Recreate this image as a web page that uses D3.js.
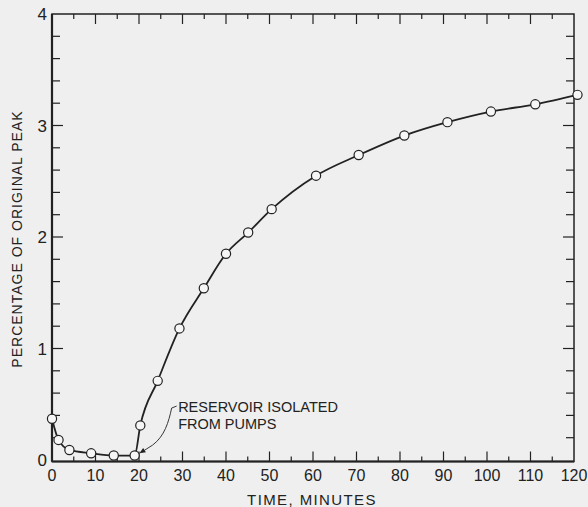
<!DOCTYPE html>
<html>
<head>
<meta charset="utf-8">
<script src="https://cdn.jsdelivr.net/npm/d3@7"></script>
<style>
  html, body { margin: 0; padding: 0; background: #efefef; }
  svg { display: block; }
  text { font-family: "Liberation Sans", Arial, sans-serif; fill: #222; }
</style>
</head>
<body>
<svg id="chart" width="588" height="507"></svg>
<script>
// ---- data ----
const timeMinutes = [0, 1.5, 4, 9, 14.2, 19, 20.3, 24.3, 29.3, 34.9, 40, 45.1, 50.5, 60.7, 70.5, 81, 90.9, 100.9, 111.1, 120.8];
const percentPeak = [0.37, 0.18, 0.09, 0.06, 0.04, 0.04, 0.31, 0.71, 1.18, 1.54, 1.85, 2.04, 2.25, 2.55, 2.735, 2.91, 3.03, 3.125, 3.19, 3.275];
const xTickValues = [0, 10, 20, 30, 40, 50, 60, 70, 80, 90, 100, 110, 120];
const xTickLabels = ["0", "10", "20", "30", "40", "50", "60", "70", "80", "90", "100", "110", "120"];
const yTickValues = [0, 1, 2, 3, 4];
const yTickLabels = ["0", "1", "2", "3", "4"];
const xLabel = "TIME, MINUTES";
const yLabel = "PERCENTAGE OF ORIGINAL PEAK";
const annotationLines = ["RESERVOIR ISOLATED", "FROM PUMPS"];

// ---- layout ----
const svg = d3.select("#chart");
const x = d3.scaleLinear().domain([0, 120]).range([52, 574]);
const y = d3.scaleLinear().domain([0, 4]).range([460, 14]);
const ink = "#222";

// frame
const g = svg.append("g");
g.append("rect")
  .attr("x", x(0)).attr("y", y(4))
  .attr("width", x(120) - x(0)).attr("height", y(0) - y(4) + 1.5)
  .attr("fill", "none").attr("stroke", ink).attr("stroke-width", 1.5);
// heavier left and bottom axis
g.append("line").attr("x1", x(0)).attr("x2", x(0)).attr("y1", y(4)).attr("y2", y(0) + 1.5)
  .attr("stroke", ink).attr("stroke-width", 2.2);
g.append("line").attr("x1", x(0)).attr("x2", x(120)).attr("y1", y(0) + 1.5).attr("y2", y(0) + 1.5)
  .attr("stroke", ink).attr("stroke-width", 2);

// x ticks (every 5 min) bottom and top, inward
const xMinor = d3.range(5, 120, 5);
xMinor.forEach(v => {
  const major = v % 10 === 0;
  const len = major ? 10 : 5;
  g.append("line").attr("x1", x(v)).attr("x2", x(v))
    .attr("y1", y(0) + 1.5).attr("y2", y(0) + 1.5 - len)
    .attr("stroke", ink).attr("stroke-width", 1.2);
  g.append("line").attr("x1", x(v)).attr("x2", x(v))
    .attr("y1", y(4)).attr("y2", y(4) + len)
    .attr("stroke", ink).attr("stroke-width", 1.2);
});
// y ticks (every 0.2) left and right, inward
d3.range(1, 20).forEach(i => {
  const v = i * 0.2;
  const major = i % 5 === 0;
  const len = major ? 11 : 8;
  g.append("line").attr("x1", x(0)).attr("x2", x(0) + len)
    .attr("y1", y(v)).attr("y2", y(v))
    .attr("stroke", ink).attr("stroke-width", 1.2);
  g.append("line").attr("x1", x(120)).attr("x2", x(120) - len)
    .attr("y1", y(v)).attr("y2", y(v))
    .attr("stroke", ink).attr("stroke-width", 1.2);
});

// tick labels
g.selectAll(".xl").data(xTickValues).enter().append("text")
  .attr("x", d => x(d)).attr("y", 481)
  .attr("text-anchor", "middle").attr("font-size", 16)
  .text((d, i) => xTickLabels[i]);
g.selectAll(".yl").data(yTickValues).enter().append("text")
  .attr("x", 47).attr("y", d => y(d)).attr("dy", "0.36em")
  .attr("text-anchor", "end").attr("font-size", 17)
  .text((d, i) => yTickLabels[i]);

// axis titles
g.append("text").attr("x", 312).attr("y", 505)
  .attr("text-anchor", "middle").attr("font-size", 15)
  .attr("letter-spacing", 1.4).text(xLabel);
g.append("text").attr("transform", "translate(22,239) rotate(-90)")
  .attr("text-anchor", "middle").attr("font-size", 14)
  .attr("letter-spacing", 1).text(yLabel);

// data line
const pts = timeMinutes.map((t, i) => [t, percentPeak[i]]);
const line = d3.line().x(d => x(d[0])).y(d => y(d[1])).curve(d3.curveMonotoneX);
g.append("path").datum(pts).attr("d", line)
  .attr("fill", "none").attr("stroke", ink).attr("stroke-width", 1.8);
g.selectAll(".pt").data(pts).enter().append("circle")
  .attr("cx", d => x(d[0])).attr("cy", d => y(d[1])).attr("r", 4.6)
  .attr("fill", "#f6f6f6").attr("stroke", ink).attr("stroke-width", 1.2);

// annotation
const ax = x(29), ay = y(0.43);
annotationLines.forEach((s, i) => {
  g.append("text").attr("x", ax).attr("y", ay + i * 16.5)
    .attr("font-size", 14.5).text(s);
});
const tipX = x(20.1), tipY = y(0.06);
const sx = ax - 1.5, sy = ay - 6;
g.append("path")
  .attr("d", `M${sx},${sy} L${sx - 5},${sy + 2} C${sx - 8},${sy + 16} ${sx - 12},${sy + 30} ${sx - 24},${sy + 39} L${tipX + 5},${tipY - 3}`)
  .attr("fill", "none").attr("stroke", ink).attr("stroke-width", 0.9);
// arrowhead
const ang = Math.atan2((tipY) - (sy + 39), tipX - (sx - 24));
const ah = 6, aw = 2.6;
const bx = tipX - ah * Math.cos(ang), by = tipY - ah * Math.sin(ang);
g.append("path")
  .attr("d", `M${tipX},${tipY} L${bx - aw * Math.sin(ang)},${by + aw * Math.cos(ang)} L${bx + aw * Math.sin(ang)},${by - aw * Math.cos(ang)} Z`)
  .attr("fill", ink);
</script>
</body>
</html>
